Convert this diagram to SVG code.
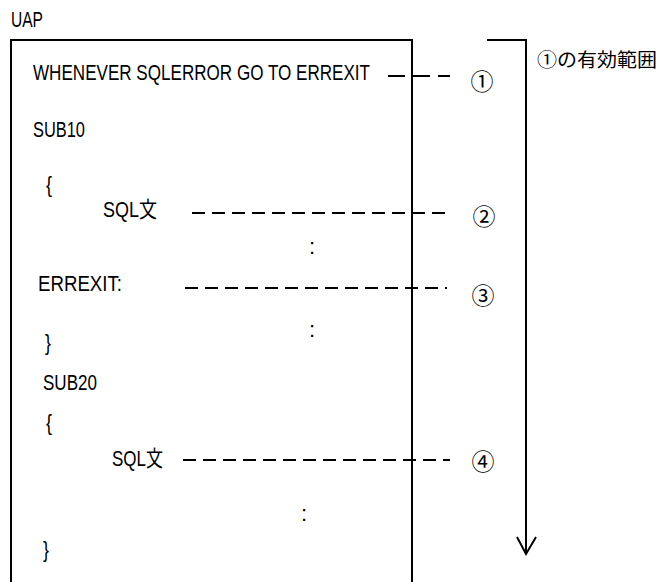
<svg xmlns="http://www.w3.org/2000/svg" width="666" height="582" viewBox="0 0 666 582">
<style>
.t{font-family:"Liberation Sans","Noto Sans CJK JP",sans-serif;font-size:22px;fill:#000}
.j{font-family:"Noto Sans CJK JP",sans-serif;font-size:19px;fill:#000}
.c{font-family:"Noto Sans CJK JP",sans-serif;font-size:23px;fill:#000;text-anchor:middle}
.ln{fill:none;stroke:#000;stroke-width:2}
.d{fill:none;stroke:#000;stroke-width:2;stroke-dasharray:13 7}
</style>
<rect width="666" height="582" fill="#fff"/>
<g id="uap-label"><text class="t" x="11" y="27" textLength="32" lengthAdjust="spacingAndGlyphs">UAP</text></g>
<g id="uap-box"><path class="ln" d="M11,582 V40 H412 V582"/></g>
<g id="code">
<text class="t" x="33" y="80" textLength="337" lengthAdjust="spacingAndGlyphs">WHENEVER SQLERROR GO TO ERREXIT</text>
<text class="t" x="33" y="137" textLength="52" lengthAdjust="spacingAndGlyphs">SUB10</text>
<text class="t" x="46" y="192" textLength="6" lengthAdjust="spacingAndGlyphs">{</text>
<text class="t" x="103" y="217" textLength="54" lengthAdjust="spacingAndGlyphs">SQL文</text>
<text class="t" x="309" y="254">:</text>
<text class="t" x="38" y="291" textLength="84" lengthAdjust="spacingAndGlyphs">ERREXIT:</text>
<text class="t" x="309" y="337">:</text>
<text class="t" x="45" y="350" textLength="6" lengthAdjust="spacingAndGlyphs">}</text>
<text class="t" x="43" y="390" textLength="54" lengthAdjust="spacingAndGlyphs">SUB20</text>
<text class="t" x="46" y="430" textLength="6" lengthAdjust="spacingAndGlyphs">{</text>
<text class="t" x="112" y="466" textLength="51" lengthAdjust="spacingAndGlyphs">SQL文</text>
<text class="t" x="301" y="521">:</text>
<text class="t" x="43" y="557" textLength="6" lengthAdjust="spacingAndGlyphs">}</text>
</g>
<g id="connectors">
<line class="ln" x1="388" y1="76" x2="450" y2="76" stroke-dasharray="17 8"/>
<line class="d" x1="192" y1="213" x2="450" y2="213"/>
<line class="d" x1="185" y1="288" x2="447" y2="288"/>
<line class="d" x1="183" y1="460" x2="450" y2="460"/>
</g>
<g id="markers">
<text class="c" x="482" y="90">①</text>
<text class="c" x="484" y="225">②</text>
<text class="c" x="483" y="304">③</text>
<text class="c" x="483" y="470">④</text>
</g>
<g id="scope">
<path class="ln" d="M487,40 H526 V554"/>
<polyline class="ln" points="517,537 526,554 536,537"/>
<text class="j" x="537" y="67" textLength="120" lengthAdjust="spacingAndGlyphs">①の有効範囲</text>
</g>
</svg>
